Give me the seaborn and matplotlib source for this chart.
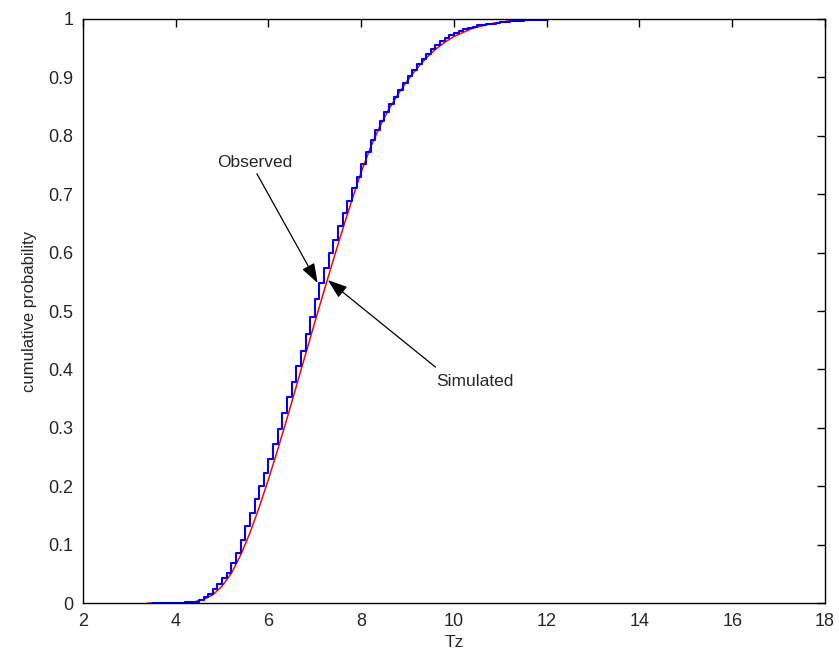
import numpy as np
import pandas as pd
import seaborn as sns
import matplotlib.pyplot as plt

tz_obs = [3.5, 3.6, 3.7, 3.8, 3.9, 4.0, 4.1, 4.2, 4.3, 4.4,
          4.5, 4.6, 4.7, 4.8, 4.9, 5.0, 5.1, 5.2, 5.3, 5.4,
          5.5, 5.6, 5.7, 5.8, 5.9, 6.0, 6.1, 6.2, 6.3, 6.4,
          6.5, 6.6, 6.7, 6.8, 6.9, 7.0, 7.1, 7.2, 7.3, 7.4,
          7.5, 7.6, 7.7, 7.8, 7.9, 8.0, 8.1, 8.2, 8.3, 8.4,
          8.5, 8.6, 8.7, 8.8, 8.9, 9.0, 9.1, 9.2, 9.3, 9.4,
          9.5, 9.6, 9.7, 9.8, 9.9, 10.0, 10.1, 10.2, 10.3, 10.4,
          10.5, 10.6, 10.7, 10.8, 10.9, 11.0, 11.1, 11.2, 11.3, 11.4,
          11.5, 11.6, 11.7, 11.8, 11.9, 12.0]
cdf_obs = [0.000, 0.000, 0.000, 0.000, 0.000, 0.000, 0.000, 0.001, 0.001, 0.002,
           0.005, 0.010, 0.015, 0.024, 0.032, 0.042, 0.052, 0.068, 0.086, 0.108,
           0.132, 0.155, 0.178, 0.200, 0.222, 0.246, 0.272, 0.298, 0.325, 0.352,
           0.378, 0.405, 0.432, 0.460, 0.490, 0.520, 0.548, 0.574, 0.600, 0.622,
           0.645, 0.668, 0.688, 0.710, 0.730, 0.752, 0.772, 0.792, 0.810, 0.826,
           0.840, 0.854, 0.866, 0.878, 0.890, 0.902, 0.913, 0.923, 0.932, 0.940,
           0.948, 0.955, 0.962, 0.967, 0.972, 0.976, 0.979, 0.982, 0.985, 0.987,
           0.989, 0.990, 0.991, 0.992, 0.993, 0.994, 0.995, 0.996, 0.997, 0.997,
           0.998, 0.998, 0.999, 0.999, 0.999, 1.000]

# simulated CDF, smooth curve
tz_sim = [3.4, 4.0, 4.2, 4.4, 4.6, 4.8, 5.0, 5.2, 5.4, 5.6, 5.8, 6.0,
          6.2, 6.4, 6.6, 6.8, 7.0, 7.2, 7.4, 7.6, 7.8, 8.0, 8.2, 8.4,
          8.6, 8.8, 9.0, 9.2, 9.4, 9.6, 9.8, 10.0, 10.4, 10.8, 11.2, 11.6, 12.0]
cdf_sim = [0.0, 0.0, 0.0005, 0.002, 0.006, 0.014, 0.029, 0.051, 0.082, 0.120, 0.164, 0.212,
           0.263, 0.316, 0.371, 0.426, 0.481, 0.535, 0.588, 0.640, 0.690, 0.738, 0.780, 0.816,
           0.846, 0.872, 0.895, 0.915, 0.933, 0.948, 0.960, 0.970, 0.984, 0.992, 0.997, 0.999, 1.0]

x_ticks = [2, 4, 6, 8, 10, 12, 14, 16, 18]
y_ticks = [0, 0.1, 0.2, 0.3, 0.4, 0.5, 0.6, 0.7, 0.8, 0.9, 1]
y_tick_labels = ['0', '0.1', '0.2', '0.3', '0.4', '0.5', '0.6', '0.7', '0.8', '0.9', '1']

obs = pd.DataFrame({'Tz': tz_obs, 'cdf': cdf_obs})
sim = pd.DataFrame({'Tz': tz_sim, 'cdf': cdf_sim})

sns.set_style('white')
plt.rcParams['font.family'] = ['Liberation Sans', 'DejaVu Sans']

fig = plt.figure(figsize=(8.39, 6.61), dpi=100)
ax = fig.add_axes([0.0989, 0.0877, 0.8844, 0.8836])

sns.lineplot(data=sim, x='Tz', y='cdf', color='red', linewidth=1.1, ax=ax)
sns.lineplot(data=obs, x='Tz', y='cdf', color='blue', linewidth=1.5,
             drawstyle='steps-post', ax=ax)

ax.set_xlim(2, 18)
ax.set_ylim(0, 1)
ax.set_xticks(x_ticks)
ax.set_yticks(y_ticks)
ax.set_yticklabels(y_tick_labels)
ax.tick_params(direction='in', length=6, width=1, top=True, right=True,
               labelsize=13, pad=7, color='black')
for sp in ax.spines.values():
    sp.set_color('black')
    sp.set_linewidth(1)
ax.set_xlabel('Tz', fontsize=12.5, labelpad=4)
ax.set_ylabel('cumulative probability', fontsize=12, labelpad=8)

# annotation arrows
arrow = dict(arrowstyle='-|>,head_length=0.8,head_width=0.28', color='black',
             lw=0.9, mutation_scale=15, shrinkA=0, shrinkB=0)
ax.annotate('', xy=(7.06, 0.548), xytext=(5.75, 0.735), arrowprops=arrow)
ax.text(5.7, 0.742, 'Observed', fontsize=12.5, ha='center', va='bottom')
ax.annotate('', xy=(7.28, 0.553), xytext=(9.6, 0.404), arrowprops=arrow)
ax.text(9.62, 0.38, 'Simulated', fontsize=12.5, ha='left', va='center')

fig.savefig('out.png', dpi=100)
